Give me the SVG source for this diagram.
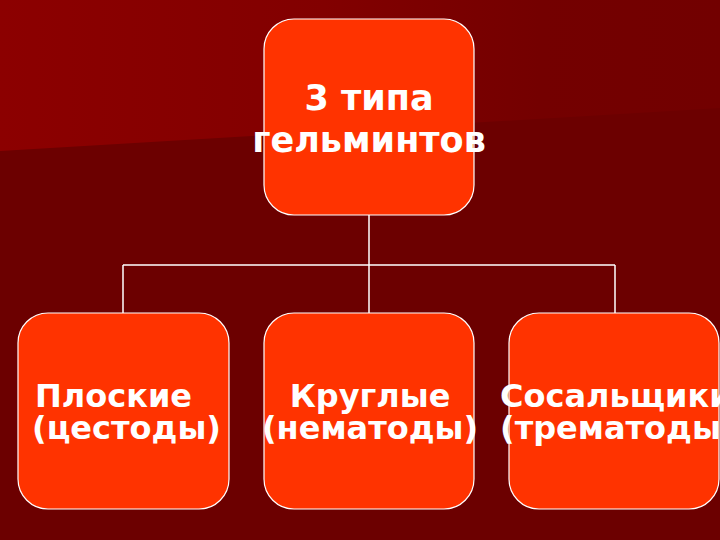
<svg xmlns="http://www.w3.org/2000/svg" width="720" height="540" viewBox="0 0 720 540">
<defs>
<linearGradient id="bg" x1="0" y1="0" x2="1" y2="0">
<stop offset="0" stop-color="#8c0000"/>
<stop offset="0.45" stop-color="#820000"/>
<stop offset="0.75" stop-color="#740000"/>
<stop offset="1" stop-color="#720000"/>
</linearGradient>
<style>
.box{fill:#ff3300;stroke:#ffffff;stroke-width:1.2}
.t{font-family:"DejaVu Sans","Liberation Sans",sans-serif;font-weight:bold;fill:#ffffff;font-size:32px}
.big{font-size:35px}
.c{fill:none;stroke:#ffffff;stroke-width:1.5}
</style>
</defs>
<rect x="0" y="0" width="720" height="540" fill="#6c0000"/>
<polygon points="0,0 720,0 720,108 0,151" fill="url(#bg)"/>
<g id="connectors">
<path class="c" d="M369,215 V265 M123,265 H615 M123,265 V313 M369,265 V313 M615,265 V313"/>
</g>
<g id="node-root">
<rect class="box" x="264" y="19" width="210" height="196" rx="30"/>
<text class="t big" x="369" y="110" text-anchor="middle">3 типа</text>
<text class="t big" x="369" y="152" text-anchor="middle">гельминтов</text>
</g>
<g id="node-flat">
<rect class="box" x="18" y="313" width="211" height="196" rx="30"/>
<text class="t" x="35" y="407">Плоские</text>
<text class="t" x="32" y="439">(цестоды)</text>
</g>
<g id="node-round">
<rect class="box" x="264" y="313" width="210" height="196" rx="30"/>
<text class="t" x="370" y="407" text-anchor="middle">Круглые</text>
<text class="t" x="370" y="439" text-anchor="middle">(нематоды)</text>
</g>
<g id="node-flukes">
<rect class="box" x="509" y="313" width="210" height="196" rx="30"/>
<text class="t" x="500" y="407">Сосальщики</text>
<text class="t" x="500" y="439">(трематоды)</text>
</g>
</svg>
